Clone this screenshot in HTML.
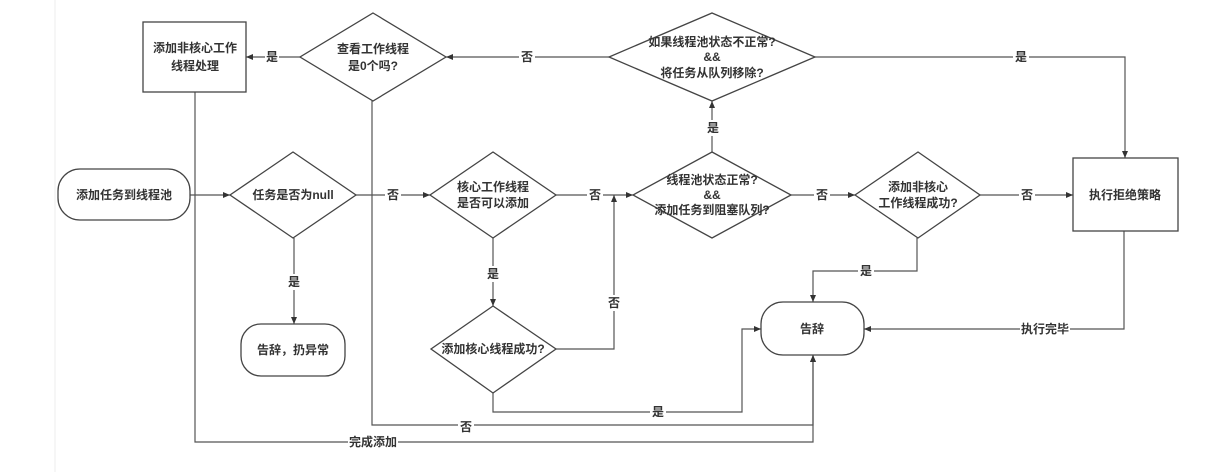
<!DOCTYPE html>
<html><head><meta charset="utf-8"><style>
body{margin:0;background:#fff;}
svg{display:block;font-family:"Liberation Sans","Noto Sans CJK SC",sans-serif;}
text{font-size:12px;fill:#333;text-anchor:middle;dominant-baseline:central;font-weight:bold;}
.s{fill:#fff;stroke:#444;stroke-width:1.3;}
.l{fill:none;stroke:#555;stroke-width:1.2;}
.lb{fill:#fff;}
</style></head><body>
<svg width="1228" height="472" viewBox="0 0 1228 472">
<defs><marker id="a" markerWidth="8" markerHeight="8" refX="7" refY="4" orient="auto" markerUnits="userSpaceOnUse"><path d="M0,1 L7,4 L0,7z" fill="#333"/></marker></defs>
<line x1="55" y1="0" x2="55" y2="472" stroke="#eee"/>
<!-- connectors -->
<g class="l" marker-end="url(#a)">
<path d="M190,195 H230"/>
<path d="M356,195 H430"/>
<path d="M556,195 H633"/>
<path d="M556,349 H614 V195"/>
<path d="M791,195 H855"/>
<path d="M980,195 H1073"/>
<path d="M712,152 V101"/>
<path d="M609,57 H446"/>
<path d="M300,57 H246"/>
<path d="M815,57 H1125 V158"/>
<path d="M294,238 V324"/>
<path d="M493,238 V306"/>
<path d="M917,238 V271 H813 V302"/>
<path d="M1124,231 V329 H864"/>
<path d="M493,393 V412 H742 V329 H761"/>
<path d="M372,101 V425 H813 V355"/>
<path d="M195,92 V442 H813 V355"/>
</g>
<!-- nodes -->
<rect class="s" x="143" y="22" width="103" height="70"/>
<text x="195" y="48">添加非核心工作</text><text x="195" y="66">线程处理</text>
<polygon class="s" points="373,13 446,57 373,101 300,57"/>
<text x="373" y="49">查看工作线程</text><text x="373" y="66">是0个吗?</text>
<polygon class="s" points="712,13 815,57 712,101 609,57"/>
<text x="712" y="42">如果线程池状态不正常?</text><text x="712" y="57">&amp;&amp;</text><text x="712" y="73">将任务从队列移除?</text>
<rect class="s" x="58" y="169" width="132" height="51" rx="22"/>
<text x="124" y="195">添加任务到线程池</text>
<polygon class="s" points="293,152 356,195 293,238 230,195"/>
<text x="293" y="195">任务是否为null</text>
<polygon class="s" points="493,152 556,195 493,238 430,195"/>
<text x="493" y="187">核心工作线程</text><text x="493" y="203">是否可以添加</text>
<polygon class="s" points="712,152 791,195 712,238 633,195"/>
<text x="712" y="180">线程池状态正常?</text><text x="712" y="195">&amp;&amp;</text><text x="712" y="210">添加任务到阻塞队列?</text>
<polygon class="s" points="918,152 980,195 918,238 855,195"/>
<text x="918" y="187">添加非核心</text><text x="918" y="203">工作线程成功?</text>
<rect class="s" x="1073" y="158" width="105" height="73"/>
<text x="1125" y="195">执行拒绝策略</text>
<rect class="s" x="241" y="324" width="104" height="52" rx="20"/>
<text x="293" y="350">告辞，扔异常</text>
<polygon class="s" points="493,306 556,349 493,393 431,349"/>
<text x="493" y="349">添加核心线程成功?</text>
<rect class="s" x="761" y="302" width="103" height="53" rx="22"/>
<text x="812" y="329">告辞</text>
<!-- labels -->
<g>
<rect class="lb" x="385" y="187" width="16" height="16"/><text x="393" y="195">否</text>
<rect class="lb" x="587" y="187" width="16" height="16"/><text x="595" y="195">否</text>
<rect class="lb" x="814" y="187" width="16" height="16"/><text x="822" y="195">否</text>
<rect class="lb" x="1019" y="187" width="16" height="16"/><text x="1027" y="195">否</text>
<rect class="lb" x="705" y="120" width="16" height="16"/><text x="713" y="128">是</text>
<rect class="lb" x="519" y="49" width="16" height="16"/><text x="527" y="57">否</text>
<rect class="lb" x="1013" y="49" width="16" height="16"/><text x="1021" y="57">是</text>
<rect class="lb" x="265" y="49" width="14" height="16"/><text x="272" y="57">是</text>
<rect class="lb" x="286" y="274" width="16" height="16"/><text x="294" y="282">是</text>
<rect class="lb" x="485" y="266" width="16" height="16"/><text x="493" y="274">是</text>
<rect class="lb" x="606" y="295" width="16" height="16"/><text x="614" y="303">否</text>
<rect class="lb" x="858" y="263" width="16" height="16"/><text x="866" y="271">是</text>
<rect class="lb" x="1020" y="321" width="50" height="16"/><text x="1045" y="329">执行完毕</text>
<rect class="lb" x="650" y="404" width="16" height="16"/><text x="658" y="412">是</text>
<rect class="lb" x="458" y="418" width="16" height="16"/><text x="466" y="427">否</text>
<rect class="lb" x="348" y="434" width="50" height="16"/><text x="373" y="442">完成添加</text>
</g>
</svg>
</body></html>
